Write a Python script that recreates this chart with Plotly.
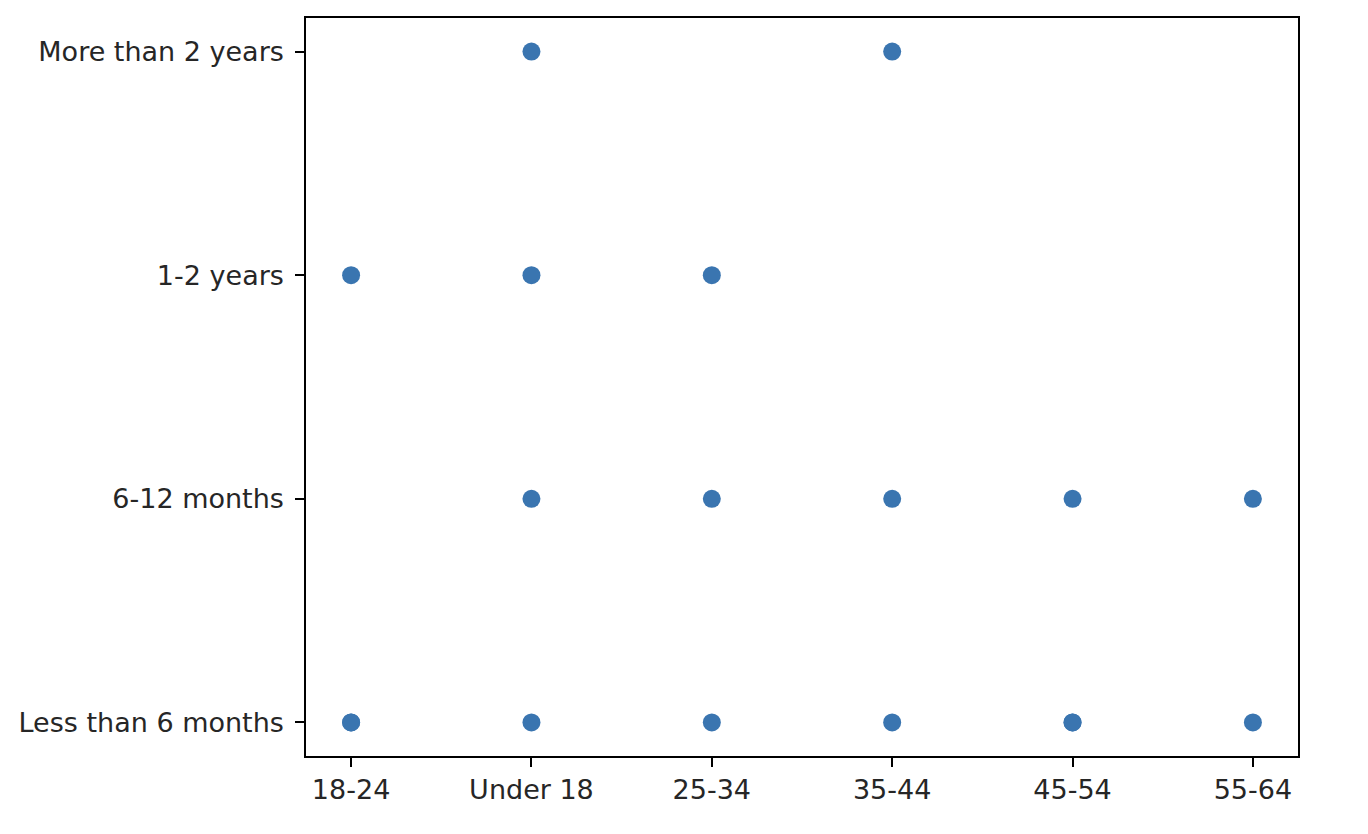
import plotly.graph_objects as go

age_groups = ["18-24", "Under 18", "25-34", "35-44", "45-54", "55-64"]
durations = ["Less than 6 months", "6-12 months", "1-2 years", "More than 2 years"]

point_age = ["18-24", "18-24", "18-24",
             "Under 18", "Under 18", "Under 18", "Under 18",
             "25-34", "25-34", "25-34",
             "35-44", "35-44", "35-44",
             "45-54", "45-54", "45-54",
             "55-64", "55-64"]
point_duration = ["Less than 6 months", "Less than 6 months", "1-2 years",
                  "Less than 6 months", "6-12 months", "1-2 years", "More than 2 years",
                  "Less than 6 months", "6-12 months", "1-2 years",
                  "Less than 6 months", "6-12 months", "More than 2 years",
                  "Less than 6 months", "Less than 6 months", "6-12 months",
                  "Less than 6 months", "6-12 months"]

fig = go.Figure()
fig.add_trace(go.Scatter(
    x=point_age, y=point_duration, mode="markers",
    marker=dict(color="#3a75b0", size=18, line=dict(width=0)),
    showlegend=False,
))

axis_common = dict(
    showline=True, linecolor="black", linewidth=1.5, mirror=True,
    ticks="outside", ticklen=9, tickcolor="black", tickwidth=1.5,
    showgrid=False, zeroline=False, automargin=False,
    tickfont=dict(family="DejaVu Sans", size=27, color="#262626"),
)
fig.update_xaxes(type="category", categoryorder="array", categoryarray=age_groups,
                 range=[-0.25, 5.25], **axis_common)
fig.update_yaxes(type="category", categoryorder="array", categoryarray=durations,
                 range=[-0.15, 3.15], ticklabelstandoff=6, **axis_common)
fig.update_layout(
    width=1368, height=834,
    margin=dict(l=298, r=78, t=10, b=86),
    plot_bgcolor="white", paper_bgcolor="white",
)
fig.write_html("out.html")
